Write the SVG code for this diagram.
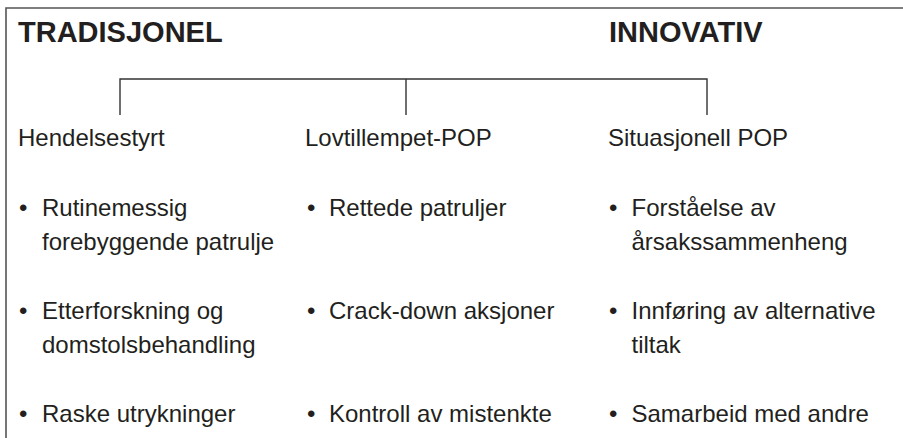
<svg xmlns="http://www.w3.org/2000/svg" width="903" height="438" viewBox="0 0 903 438">
<style>
.t{font-family:"Liberation Sans",Arial,sans-serif;fill:#231f20}
.h{font-size:29px;font-weight:bold}
.b{font-size:24px}
.ln{stroke:#333;stroke-width:1.4;fill:none}
</style>
<rect x="0" y="0" width="903" height="438" fill="#fff"/>
<path d="M6,440 V8 H905" stroke="#555" stroke-width="1.6" fill="none"/>
<g id="title-trad"><text class="t h" x="18" y="42">TRADISJONEL</text></g>
<g id="title-innov"><text class="t h" x="609" y="42">INNOVATIV</text></g>
<g id="connectors">
<path class="ln" d="M120,115 V79 H707 V115 M406,79 V115"/>
</g>
<g id="col-hendelsestyrt" class="t b">
<text x="18" y="146">Hendelsestyrt</text>
<text x="19" y="216">•</text><text x="42" y="216">Rutinemessig</text>
<text x="42" y="250">forebyggende patrulje</text>
<text x="19" y="319">•</text><text x="42" y="319">Etterforskning og</text>
<text x="42" y="353">domstolsbehandling</text>
<text x="19" y="422">•</text><text x="42" y="422">Raske utrykninger</text>
</g>
<g id="col-lovtillempet" class="t b">
<text x="305" y="146">Lovtillempet-POP</text>
<text x="307" y="216">•</text><text x="329" y="216">Rettede patruljer</text>
<text x="307" y="319">•</text><text x="329" y="319">Crack-down aksjoner</text>
<text x="307" y="422">•</text><text x="329" y="422">Kontroll av mistenkte</text>
</g>
<g id="col-situasjonell" class="t b">
<text x="608" y="146">Situasjonell POP</text>
<text x="609" y="216">•</text><text x="631.5" y="216">Forståelse av</text>
<text x="631.5" y="250">årsakssammenheng</text>
<text x="609" y="319">•</text><text x="631.5" y="319">Innføring av alternative</text>
<text x="631.5" y="353">tiltak</text>
<text x="609" y="422">•</text><text x="631.5" y="422">Samarbeid med andre</text>
</g>
</svg>
